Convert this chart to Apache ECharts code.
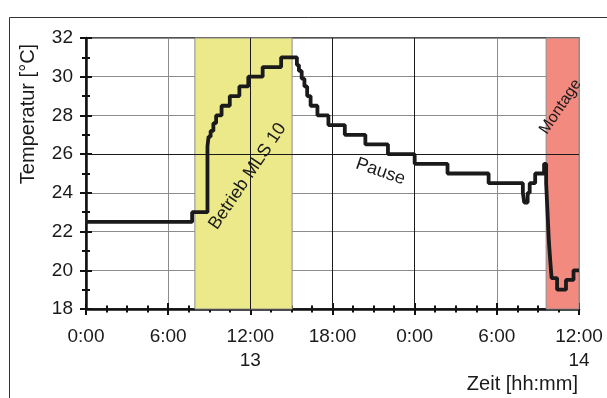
<!DOCTYPE html>
<html>
<head>
<meta charset="utf-8">
<script src="https://cdn.jsdelivr.net/npm/echarts@6/dist/echarts.min.js"></script>
<style>
html,body{margin:0;padding:0;background:#fff;}
#c{width:607px;height:398px;}
</style>
</head>
<body>
<div id="c"></div>
<script>
// Time in hours since 0:00 (axis 0 = 0:00, 36 = 12:00 next day)
const hours = [0, 7.75, 8.87, 8.95, 9.1, 9.3, 9.5, 9.9, 10.5, 11.2, 11.85, 12.9, 14.25,
  15.4, 15.55, 15.75, 15.95, 16.15, 16.4, 16.9, 17.7, 18.9, 20.4, 22.05, 24.0, 26.4, 29.4,
  31.9, 32.0, 32.25, 32.4, 32.8, 33.45, 33.6, 33.7, 33.8, 33.9, 34.0, 34.4, 35.05, 35.6, 36];
const temps = [22.5, 23.0, 26.4, 26.9, 27.2, 27.6, 28.0, 28.5, 29.0, 29.5, 30.0, 30.5, 31.0,
  30.6, 30.3, 29.9, 29.5, 29.0, 28.5, 28.0, 27.5, 27.0, 26.5, 26.0, 25.5, 25.0, 24.5,
  24.0, 23.5, 24.0, 24.5, 25.0, 25.5, 24.5, 23.0, 21.5, 20.5, 19.6, 19.0, 19.5, 20.0, 20.0];
const xTickLabels = ['0:00', '6:00', '12:00', '18:00', '0:00', '6:00', '12:00'];
const dayLabels = {12: '13', 36: '14'};
const yellowBand = [7.95, 15.05];
const redBand = [33.6, 36];
const darkGridX = [12, 18, 24];
const darkGridY = [26];
const annotations = [
  {text: 'Betrieb MLS 10', x: 11.8, y: 24.85, rot: 56, size: 18},
  {text: 'Pause', x: 21.5, y: 25.1, rot: -19, size: 18},
  {text: 'Montage', x: 34.65, y: 28.45, rot: 56, size: 16}
];

const FONT = 'Liberation Sans, Arial, sans-serif';
const chart = echarts.init(document.getElementById('c'), null, {renderer: 'canvas'});
const data = hours.map((h, i) => [h, temps[i]]);

const xBase = {
  type: 'value', min: 0, max: 36, interval: 6, gridIndex: 0, position: 'bottom',
  splitLine: {show: false}
};
const yBase = {
  type: 'value', min: 18, max: 32, interval: 2, gridIndex: 0, position: 'left',
  splitLine: {show: false}
};

chart.setOption({
  animation: false,
  grid: {left: 86, right: 28, top: 38, bottom: 89, show: true, borderColor: '#1a1a1a', borderWidth: 1.5, backgroundColor: 'transparent'},
  xAxis: [
    Object.assign({}, xBase, {
      axisLine: {show: true, lineStyle: {color: '#111', width: 2.5}},
      axisTick: {show: true, length: 6, lineStyle: {color: '#111', width: 2}},
      minorTick: {show: true, splitNumber: 4, length: 3.5, lineStyle: {color: '#111', width: 2}},
      splitLine: {show: true, lineStyle: {color: '#8c8c8c', width: 1}},
      axisLabel: {
        margin: 16, fontSize: 19, color: '#1a1a1a', fontFamily: FONT, lineHeight: 24,
        formatter: v => {
          const s = xTickLabels[Math.round(v / 6)] || '';
          return dayLabels[v] ? s + '\n' + dayLabels[v] : s;
        }
      }
    }),
    Object.assign({}, xBase, {
      axisLine: {show: false},
      axisTick: {show: true, inside: true, length: 6, lineStyle: {color: '#111', width: 2}},
      minorTick: {show: true, splitNumber: 4, length: 3.5, lineStyle: {color: '#111', width: 2}},
      axisLabel: {show: false}
    })
  ],
  yAxis: [
    Object.assign({}, yBase, {
      axisLine: {show: true, lineStyle: {color: '#111', width: 2.5}},
      axisTick: {show: true, length: 6, lineStyle: {color: '#111', width: 2}},
      minorTick: {show: true, splitNumber: 2, length: 4, lineStyle: {color: '#111', width: 2}},
      splitLine: {show: true, lineStyle: {color: '#8c8c8c', width: 1}},
      axisLabel: {margin: 13, fontSize: 19, color: '#1a1a1a', fontFamily: FONT}
    }),
    Object.assign({}, yBase, {
      axisLine: {show: false},
      axisTick: {show: true, inside: true, length: 6, lineStyle: {color: '#111', width: 2}},
      minorTick: {show: true, splitNumber: 2, length: 4, lineStyle: {color: '#111', width: 2}},
      axisLabel: {show: false}
    })
  ],
  series: [
    {
      name: 'bands', type: 'line', data: [], z: -1, xAxisIndex: 0, yAxisIndex: 0,
      silent: true,
      markArea: {
        silent: true,
        data: [
          [{xAxis: yellowBand[0], itemStyle: {color: '#ECE98A', borderColor: '#8c8c8c', borderWidth: 1}}, {xAxis: yellowBand[1]}],
          [{xAxis: redBand[0], itemStyle: {color: '#F38A80', borderColor: '#8c8c8c', borderWidth: 1}}, {xAxis: redBand[1]}]
        ]
      }
    },
    {
      name: 'grid-dark', type: 'line', data: [], z: 0, silent: true,
      markLine: {
        silent: true, symbol: 'none', label: {show: false},
        lineStyle: {color: '#1a1a1a', width: 1, type: 'solid'},
        data: darkGridX.map(v => ({xAxis: v})).concat(darkGridY.map(v => ({yAxis: v})))
      }
    },
    {
      name: 'Temperatur', type: 'line', step: 'end', data: data, showSymbol: false,
      lineStyle: {color: '#1a1a1a', width: 3.8}, z: 5, silent: true
    }
  ]
});

const texts = annotations.map(a => {
  const p = chart.convertToPixel({gridIndex: 0}, [a.x, a.y]);
  return {
    type: 'text', x: p[0], y: p[1], rotation: a.rot * Math.PI / 180, z: 10,
    style: {text: a.text, fill: '#1a1a1a', font: a.size + 'px ' + FONT, align: 'center', verticalAlign: 'middle'}
  };
});
texts.push({
  type: 'text', x: 28, y: 114, rotation: Math.PI / 2, z: 10,
  style: {text: 'Temperatur [°C]', fill: '#1a1a1a', font: '20px ' + FONT, align: 'center', verticalAlign: 'middle'}
});
texts.push({
  type: 'text', x: 578, y: 384, z: 10,
  style: {text: 'Zeit [hh:mm]', fill: '#1a1a1a', font: '20px ' + FONT, align: 'right', verticalAlign: 'middle'}
});
texts.push({
  type: 'rect', shape: {x: 9.5, y: 17.5, width: 800, height: 600}, z: 0,
  style: {fill: 'none', stroke: '#333', lineWidth: 1}, silent: true
});
chart.setOption({graphic: texts});
</script>
</body>
</html>
